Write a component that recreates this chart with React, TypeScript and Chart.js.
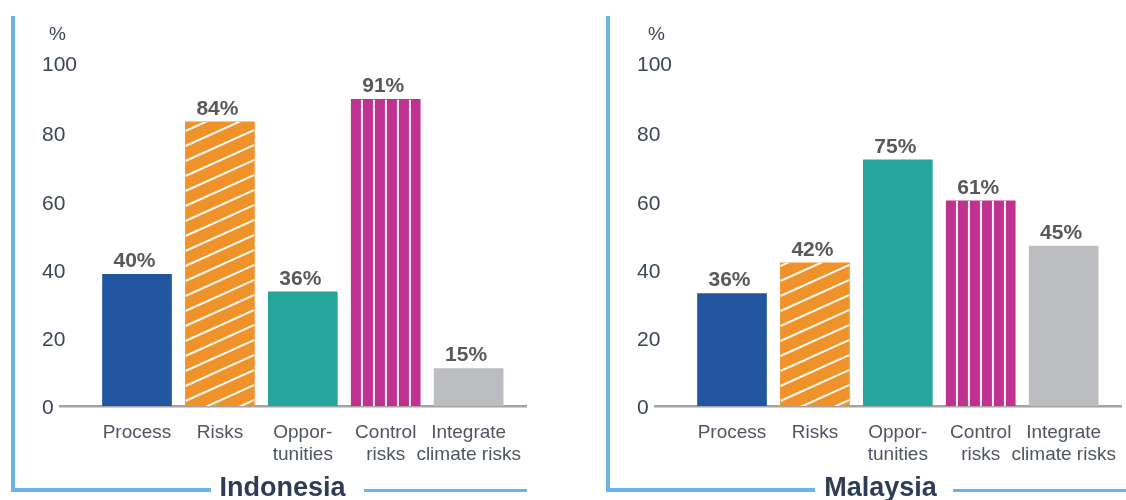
import React, { useEffect, useRef } from 'react';
import { Chart, registerables } from 'chart.js';

Chart.register(...registerables);

// ---------- data ----------
const categories = ['Process', 'Risks', 'Opportunities', 'Control risks', 'Integrate climate risks'];
const categoryLines = [['Process'], ['Risks'], ['Oppor-', 'tunities'], ['Control', 'risks'], ['Integrate', 'climate risks']];
const indonesiaBars = [38.6, 83.3, 33.5, 89.9, 11.0];
const indonesiaLabels = [40, 84, 36, 91, 15];
const malaysiaBars = [33.0, 42.0, 72.2, 60.2, 46.9];
const malaysiaLabels = [36, 42, 75, 61, 45];
const yMin = 0;
const yMax = 100;
const yStep = 20;
const yUnit = '%';
const panelTitles = ['Indonesia', 'Malaysia'];

// ---------- style ----------
const barColors = ['#2155a0', '#f0922a', '#26a59c', '#c0328f', '#bcbdc0'];
const barPatterns = ['none', 'diagonal', 'none', 'vertical', 'none'];
const FONT = '"Liberation Sans", Arial, Helvetica, sans-serif';
const frameColor = '#6cb4e6';
const tickColor = '#3c4658';
const catColor = '#4f5662';
const valueColor = '#58595b';
const titleColor = '#2d3d55';

type PanelProps = {
  title: string;
  bars: number[];
  labels: number[];
  offsetX: number;
  leftSeg: [number, number];
  rightSeg: [number, number];
  titleCenter: number;
  percentX: number;
};

function Panel(props: PanelProps) {
  const ref = useRef<HTMLCanvasElement | null>(null);
  const { bars, labels } = props;

  useEffect(() => {
    if (!ref.current) return;
    const decor = {
      id: 'decor',
      afterDatasetsDraw(chart: any) {
        const ctx = chart.ctx;
        const meta = chart.getDatasetMeta(0);
        meta.data.forEach((el: any, i: number) => {
          const { x, y, base, width } = el.getProps(['x', 'y', 'base', 'width'], true);
          const left = x - width / 2;
          const pat = barPatterns[i];
          if (pat !== 'none') {
            ctx.save();
            ctx.beginPath();
            ctx.rect(left, y, width, base - y);
            ctx.clip();
            ctx.strokeStyle = 'rgba(255,255,255,0.95)';
            ctx.lineWidth = 2;
            if (pat === 'vertical') {
              for (let k = 0; k < 5; k++) {
                const lx = left + 10.7 + 12 * k;
                ctx.beginPath();
                ctx.moveTo(lx, y);
                ctx.lineTo(lx, base);
                ctx.stroke();
              }
            } else if (pat === 'diagonal') {
              const slope = 0.45;
              const gap = 15;
              for (let c = base + 40; c > y - gap; c -= gap) {
                ctx.beginPath();
                ctx.moveTo(left, c);
                ctx.lineTo(left + width, c - slope * width);
                ctx.stroke();
              }
            }
            ctx.restore();
          }
          ctx.save();
          ctx.font = `bold 21px ${FONT}`;
          ctx.fillStyle = valueColor;
          ctx.textAlign = 'center';
          ctx.textBaseline = 'alphabetic';
          ctx.fillText(`${labels[i]}%`, x - 2.5, y - 7);
          ctx.restore();
        });
      },
    };

    const chart = new Chart(ref.current, {
      type: 'bar',
      data: {
        datasets: [
          {
            data: bars.map((v, i) => ({ x: i, y: v })),
            backgroundColor: barColors,
            borderWidth: 0,
            barThickness: 69,
          },
        ],
      },
      options: {
        animation: false,
        responsive: false,
        events: [],
        layout: { padding: { left: 60, top: 65, right: 5, bottom: 0 } },
        plugins: { legend: { display: false }, tooltip: { enabled: false }, title: { display: false } },
        scales: {
          x: {
            type: 'linear',
            min: -0.929,
            max: 4.692,
            offset: false,
            grid: { display: false, drawTicks: false },
            border: { display: true, color: '#a3a3a3', width: 2.5 },
            afterBuildTicks: (s: any) => {
              s.ticks = categories.map((_, i) => ({ value: i }));
            },
            afterFit: (s: any) => {
              s.height = 94;
              s.paddingLeft = 0;
              s.paddingRight = 0;
            },
            ticks: {
              autoSkip: false,
              maxRotation: 0,
              minRotation: 0,
              padding: 15,
              color: catColor,
              font: { family: FONT, size: 19, lineHeight: 1.2 },
              callback: (v: any) => categoryLines[Math.round(Number(v))] ?? '',
            },
          },
          y: {
            type: 'linear',
            min: yMin,
            max: yMax,
            grid: { display: false, drawTicks: false },
            border: { display: false },
            afterFit: (s: any) => {
              s.width = 0;
              s.paddingTop = 0;
              s.paddingBottom = 0;
            },
            ticks: {
              stepSize: yStep,
              mirror: true,
              crossAlign: 'near',
              padding: -18,
              color: tickColor,
              font: { family: FONT, size: 21, lineHeight: '5px' },
              callback: (v: any) => (Number(v) === yMax ? String(v) : ['', String(v)]),
            },
          },
        },
      },
      plugins: [decor],
    } as any);
    return () => chart.destroy();
  }, [bars, labels]);

  const { offsetX, leftSeg, rightSeg, titleCenter, percentX, title } = props;
  return (
    <div style={{ position: 'absolute', left: offsetX, top: 0, width: 531, height: 500 }}>
      <canvas ref={ref} width={531} height={500} style={{ position: 'absolute', left: 0, top: 0 }} />
      <div style={{ position: 'absolute', left: 11, top: 16, width: 3.5, height: 476, background: frameColor }} />
      <div style={{ position: 'absolute', left: leftSeg[0], top: 488, width: leftSeg[1] - leftSeg[0], height: 3.5, background: frameColor }} />
      <div style={{ position: 'absolute', left: rightSeg[0], top: 488.5, width: rightSeg[1] - rightSeg[0], height: 3.5, background: frameColor }} />
      <div
        style={{
          position: 'absolute',
          left: titleCenter,
          top: 474,
          transform: 'translateX(-50%)',
          font: `bold 27px ${FONT}`,
          lineHeight: '27px',
          color: titleColor,
          whiteSpace: 'nowrap',
        }}
      >
        {title}
      </div>
      <div
        style={{
          position: 'absolute',
          left: percentX,
          top: 24,
          font: `19px ${FONT}`,
          lineHeight: '19px',
          color: tickColor,
        }}
      >
        {yUnit}
      </div>
    </div>
  );
}

export default function App() {
  return (
    <div style={{ position: 'absolute', left: 0, top: 0, width: 1126, height: 500, overflow: 'hidden', background: '#fff' }}>
      <Panel
        title={panelTitles[0]}
        bars={indonesiaBars}
        labels={indonesiaLabels}
        offsetX={0}
        leftSeg={[11, 211]}
        rightSeg={[364, 527]}
        titleCenter={282.5}
        percentX={49}
      />
      <Panel
        title={panelTitles[1]}
        bars={malaysiaBars}
        labels={malaysiaLabels}
        offsetX={595}
        leftSeg={[11, 220]}
        rightSeg={[358, 531]}
        titleCenter={285.5}
        percentX={53}
      />
    </div>
  );
}
